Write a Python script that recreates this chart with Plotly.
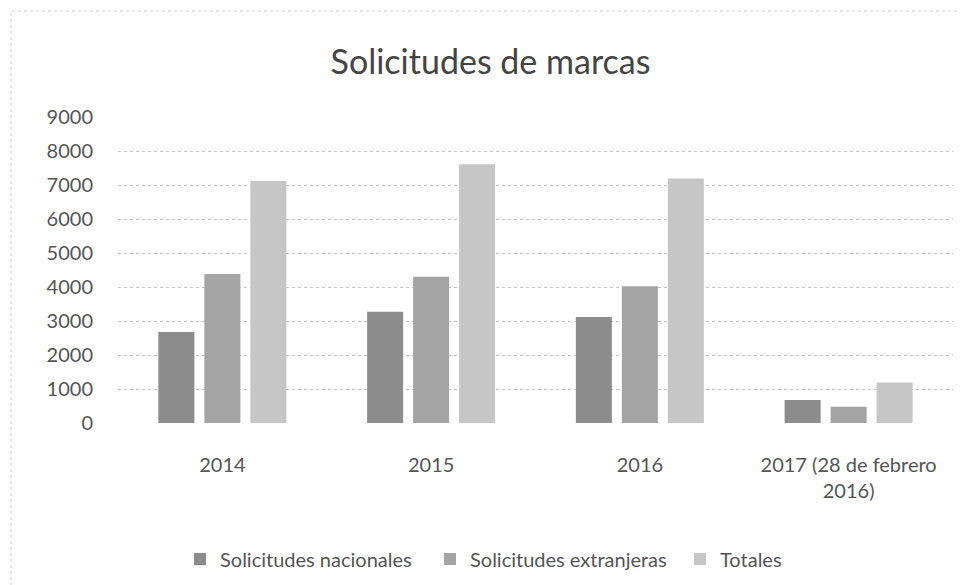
import plotly.graph_objects as go

categories = ["2014", "2015", "2016", "2017 (28 de febrero<br>2016)"]
nacionales = [2680, 3270, 3120, 680]
extranjeras = [4380, 4300, 4020, 480]
totales = [7120, 7610, 7190, 1190]
y_ticks = [0, 1000, 2000, 3000, 4000, 5000, 6000, 7000, 8000, 9000]

FONT = "Lato, 'Open Sans', sans-serif"
TXT = "#555555"

fig = go.Figure()
fig.add_trace(go.Bar(name="Solicitudes nacionales", x=categories, y=nacionales,
                     marker=dict(color="#8c8c8c", line=dict(width=0))))
fig.add_trace(go.Bar(name="Solicitudes extranjeras", x=categories, y=extranjeras,
                     marker=dict(color="#a4a4a4", line=dict(width=0))))
fig.add_trace(go.Bar(name="Totales", x=categories, y=totales,
                     marker=dict(color="#c6c6c6", line=dict(width=0))))

W, H = 965, 585
L, R, T, B = 110, 20, 109, 170
pw, ph = W - L - R, H - T - B

def px_x(p):
    return (p - L) / pw

def px_y(p):
    return (H - B - p) / ph

fig.update_layout(
    width=W, height=H,
    margin=dict(l=L, r=R, t=T, b=B),
    paper_bgcolor="white", plot_bgcolor="white",
    font=dict(family=FONT, color=TXT, size=20),
    title=dict(text="Solicitudes de marcas", x=0.5, xanchor="center",
               y=1 - 54 / H, yanchor="middle", yref="container",
               font=dict(size=34, color="#444444", family=FONT)),
    barmode="group", bargap=0.339, bargroupgap=0.217,
    showlegend=True,
    legend=dict(orientation="h", x=px_x(172), xanchor="left",
                y=px_y(551), yanchor="middle",
                font=dict(size=20, color=TXT), itemwidth=30,
                entrywidth=205, traceorder="normal"),
    xaxis=dict(showgrid=False, zeroline=False, showline=False,
               ticks="outside", ticklen=24, tickcolor="rgba(0,0,0,0)",
               tickfont=dict(size=20, color=TXT)),
    yaxis=dict(range=[0, 9000], tickvals=y_ticks, showgrid=True,
               gridcolor="#c4c4c4", griddash="dot", gridwidth=1,
               zeroline=False, showline=False,
               ticks="outside", ticklen=20, tickcolor="rgba(0,0,0,0)",
               tickfont=dict(size=20, color=TXT)),
    shapes=[dict(type="rect", xref="paper", yref="paper",
                 x0=px_x(3), x1=px_x(961), y0=px_y(581), y1=px_y(3),
                 line=dict(color="#cfcfcf", width=1, dash="dot"),
                 layer="below")],
)

fig.write_html("out.html")
